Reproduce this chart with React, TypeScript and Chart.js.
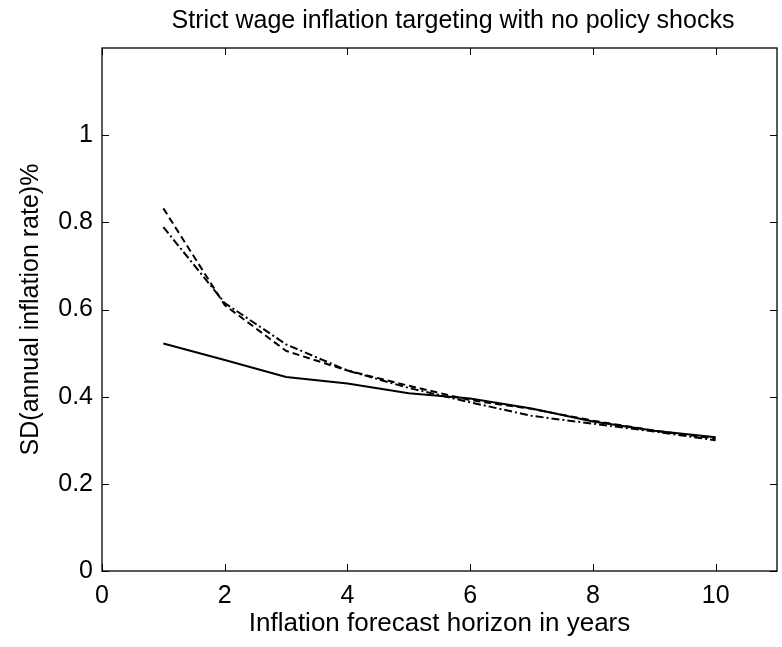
import React, { useEffect, useRef } from "react";
import { Chart, registerables } from "chart.js";

Chart.register(...registerables);

const horizons = [1, 2, 3, 4, 5, 6, 7, 8, 9, 10];
const solidSeries = [0.522, 0.484, 0.445, 0.43, 0.408, 0.396, 0.373, 0.343, 0.322, 0.307];
const dashedSeries = [0.832, 0.61, 0.505, 0.46, 0.425, 0.392, 0.372, 0.345, 0.322, 0.304];
const dashDotSeries = [0.789, 0.615, 0.52, 0.46, 0.42, 0.387, 0.356, 0.338, 0.32, 0.3];

const titleText = "Strict wage inflation targeting with no policy shocks";
const xTitle = "Inflation forecast horizon in years";
const yTitle = "SD(annual inflation rate)%";

const FONT = "'Liberation Sans', Arial, Helvetica, sans-serif";

const boxPlugin = {
  id: "boxTicks",
  afterDraw(chart: any) {
    const { ctx, chartArea } = chart;
    const { left, right, top, bottom } = chartArea;
    ctx.save();
    ctx.strokeStyle = "#000";
    ctx.lineWidth = 1.3;
    ctx.strokeRect(left, top, right - left, bottom - top);
    const len = 7;
    const xs = chart.scales.x;
    const ys = chart.scales.y;
    ctx.lineWidth = 1;
    ctx.beginPath();
    xs.ticks.forEach((t: any) => {
      const px = Math.round(xs.getPixelForValue(t.value)) + 0.5;
      ctx.moveTo(px, bottom);
      ctx.lineTo(px, bottom - len);
      ctx.moveTo(px, top);
      ctx.lineTo(px, top + len);
    });
    ys.ticks.forEach((t: any) => {
      const py = Math.round(ys.getPixelForValue(t.value)) + 0.5;
      ctx.moveTo(left, py);
      ctx.lineTo(left + len, py);
      ctx.moveTo(right, py);
      ctx.lineTo(right - len, py);
    });
    ctx.stroke();
    // title
    ctx.fillStyle = "#000";
    ctx.font = `25px ${FONT}`;
    ctx.textAlign = "center";
    ctx.textBaseline = "middle";
    ctx.fillText(titleText, 453, 21);
    ctx.restore();
  },
};

export default function App() {
  const ref = useRef<HTMLCanvasElement | null>(null);
  useEffect(() => {
    if (!ref.current) return;
    const mk = (d: number[]) => horizons.map((x, i) => ({ x, y: d[i] }));
    const chart = new Chart(ref.current, {
      type: "line",
      data: {
        datasets: [
          {
            data: mk(solidSeries),
            borderColor: "#000",
            borderWidth: 2,
            pointRadius: 0,
            tension: 0,
          },
          {
            data: mk(dashedSeries),
            borderColor: "#000",
            borderWidth: 2,
            borderDash: [7, 4],
            pointRadius: 0,
            tension: 0,
          },
          {
            data: mk(dashDotSeries),
            borderColor: "#000",
            borderWidth: 2,
            borderDash: [8, 3, 2, 3],
            pointRadius: 0,
            tension: 0,
          },
        ],
      },
      options: {
        animation: false,
        responsive: false,
        maintainAspectRatio: false,
        layout: { padding: { left: 0, right: 5, top: 48, bottom: 0 } },
        plugins: {
          legend: { display: false },
          tooltip: { enabled: false },
          title: { display: false },
        },
        scales: {
          x: {
            type: "linear",
            min: 0,
            max: 11,
            grid: { display: false, drawTicks: false },
            border: { display: false },
            ticks: {
              stepSize: 2,
              includeBounds: false,
              color: "#000",
              padding: 10,
              font: { family: FONT, size: 25 },
              maxRotation: 0,
            },
            title: {
              display: true,
              text: xTitle,
              color: "#000",
              font: { family: FONT, size: 26 },
              padding: { top: 0, bottom: 8 },
            },
            afterFit: (s: any) => {
              s.height = 76;
            },
          },
          y: {
            type: "linear",
            min: 0,
            max: 1.2,
            grid: { display: false, drawTicks: false },
            border: { display: false },
            afterBuildTicks: (s: any) => {
              s.ticks = s.ticks.filter((t: any) => t.value <= 1.0001);
            },
            ticks: {
              stepSize: 0.2,
              includeBounds: false,
              color: "#000",
              padding: 9,
              font: { family: FONT, size: 25 },
              callback: (v: any) => String(Number(Number(v).toFixed(1))),
            },
            title: {
              display: true,
              text: yTitle,
              color: "#000",
              font: { family: FONT, size: 25 },
              padding: { top: 16, bottom: 0 },
            },
            afterFit: (s: any) => {
              s.width = 102;
            },
          },
        },
      },
      plugins: [boxPlugin],
    });
    return () => chart.destroy();
  }, []);
  return (
    <div style={{ position: "fixed", left: 0, top: 0, width: 782, height: 647, background: "#fff" }}>
      <canvas ref={ref} width={782} height={647} style={{ display: "block" }} />
    </div>
  );
}
